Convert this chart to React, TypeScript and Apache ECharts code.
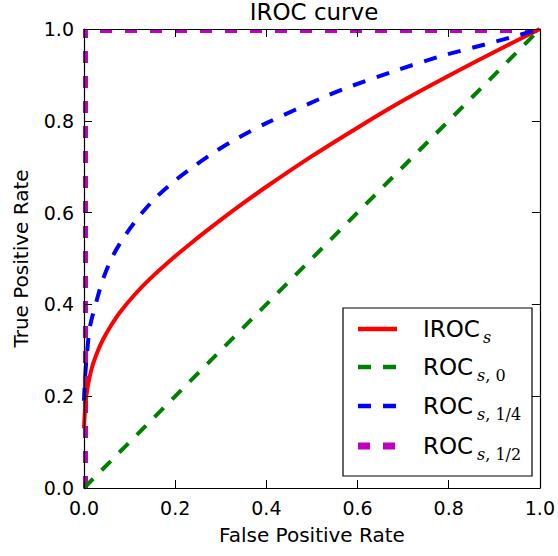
import React, { useEffect, useRef } from "react";
import * as echarts from "echarts";

// ---- data ----
const irocFpr = [0, 0.003, 0.008, 0.017, 0.03, 0.042, 0.06, 0.079, 0.11, 0.144, 0.186, 0.238, 0.3, 0.35, 0.404, 0.5, 0.6, 0.7, 0.8, 0.9, 1];
const irocTpr = [0.13, 0.18, 0.22, 0.261, 0.298, 0.324, 0.355, 0.383, 0.42, 0.455, 0.493, 0.536, 0.584, 0.621, 0.659, 0.723, 0.785, 0.844, 0.898, 0.95, 1];

const roc14Fpr = [0, 0.002, 0.006, 0.013, 0.028, 0.042, 0.064, 0.09, 0.122, 0.158, 0.2, 0.24, 0.288, 0.331, 0.4, 0.52, 0.571, 0.68, 0.78, 0.882, 0.955, 1];
const roc14Tpr = [0.19, 0.235, 0.286, 0.351, 0.409, 0.456, 0.507, 0.55, 0.593, 0.633, 0.67, 0.7, 0.733, 0.759, 0.795, 0.849, 0.87, 0.908, 0.94, 0.967, 0.987, 1];

const roc0Fpr = [0, 1];
const roc0Tpr = [0, 1];

const roc12Fpr = [0, 0, 1];
const roc12Tpr = [0, 1, 1];

const xTicks = [0, 0.2, 0.4, 0.6, 0.8, 1.0];
const yTicks = [0, 0.2, 0.4, 0.6, 0.8, 1.0];

const titleText = "IROC curve";
const xName = "False Positive Rate";
const yName = "True Positive Rate";

const legendMain = ["IROC", "ROC", "ROC", "ROC"];
const legendSubItalic = ["s", "s", "s", "s"];
const legendSubRest = ["", ", 0", ", 1/4", ", 1/2"];

const zip = (xs: number[], ys: number[]) => xs.map((x, i) => [x, ys[i]]);

export default function App() {
  const ref = useRef<HTMLDivElement>(null);
  useEffect(() => {
    if (!ref.current) return;
    const chart = echarts.init(ref.current, undefined, { renderer: "svg" });
    const font = "DejaVu Sans";
    const axisCommon = {
      type: "value" as const,
      min: 0,
      max: 1,
      interval: 0.2,
      splitLine: { show: false },
      axisLine: { show: true, onZero: false, lineStyle: { color: "#000", width: 1.2 } },
      axisTick: { show: true, inside: true, length: 8, lineStyle: { color: "#000", width: 1 } },
      z: 5,
    };
    const colors = ["#ff0000", "#008000", "#0000ff", "#bf00bf"];
    const widths = [4, 4, 4, 8];
    const dashes: any[] = [null, [13, 12], [13, 12], [12, 13]];
    const rowY = [329, 367, 406, 446];
    const subX = [483, 477, 477, 477];

    const legendEls: any[] = [
      {
        type: "rect",
        shape: { x: 343, y: 308, width: 189, height: 168 },
        style: { fill: "#fff", stroke: "#000", lineWidth: 1.2 },
        z: 10,
      },
    ];
    rowY.forEach((y, i) => {
      legendEls.push({
        type: "line",
        shape: { x1: 358, y1: y, x2: 397, y2: y },
        style: { stroke: colors[i], lineWidth: widths[i] === 8 ? 7 : 4.5, lineDash: dashes[i] || undefined },
        z: 11,
      });
      legendEls.push({
        type: "text",
        x: 423,
        y: y,
        style: {
          text: legendMain[i],
          fontFamily: font,
          fontSize: 23,
          fill: "#000",
          textVerticalAlign: "middle",
        },
        z: 11,
      });
      legendEls.push({
        type: "text",
        x: subX[i],
        y: y + 8,
        style: {
          text: `{i|${legendSubItalic[i]}}{u|${legendSubRest[i]}}`,
          rich: {
            i: { fontFamily: "DejaVu Serif", fontStyle: "italic", fontSize: 16, fill: "#000" },
            u: { fontFamily: "DejaVu Serif", fontSize: 16, fill: "#000" },
          },
          textVerticalAlign: "middle",
        },
        z: 11,
      });
    });

    chart.setOption({
      animation: false,
      backgroundColor: "#fff",
      title: {
        text: titleText,
        left: 314,
        top: 0,
        padding: 0,
        textAlign: "center",
        textStyle: { fontFamily: font, fontSize: 23, fontWeight: "normal", color: "#000" },
      },
      grid: { left: 84, right: 14, top: 29, bottom: 68, containLabel: false },
      xAxis: [
        {
          ...axisCommon,
          position: "bottom",
          name: xName,
          nameLocation: "middle",
          nameGap: 37,
          nameTextStyle: { fontFamily: font, fontSize: 20, color: "#000" },
          axisLabel: {
            fontFamily: font,
            fontSize: 19,
            color: "#000",
            margin: 10,
            formatter: (v: number) => (xTicks.includes(Math.round(v * 10) / 10) ? v.toFixed(1) : ""),
          },
        },
        { ...axisCommon, position: "top", axisLabel: { show: false } },
      ],
      yAxis: [
        {
          ...axisCommon,
          position: "left",
          name: yName,
          nameLocation: "middle",
          nameGap: 53,
          nameTextStyle: { fontFamily: font, fontSize: 20, color: "#000" },
          axisLabel: {
            fontFamily: font,
            fontSize: 19,
            color: "#000",
            margin: 10,
            formatter: (v: number) => (yTicks.includes(Math.round(v * 10) / 10) ? v.toFixed(1) : ""),
          },
        },
        { ...axisCommon, position: "right", axisLabel: { show: false } },
      ],
      series: [
        {
          type: "line",
          name: "IROC",
          data: zip(irocFpr, irocTpr),
          showSymbol: false,
          symbol: "none",
          smooth: 0.3,
          clip: true,
          lineStyle: { color: colors[0], width: widths[0] },
          z: 2,
        },
        {
          type: "line",
          name: "ROC0",
          data: zip(roc0Fpr, roc0Tpr),
          symbol: "none",
          clip: true,
          lineStyle: { color: colors[1], width: widths[1], type: dashes[1] },
          z: 2,
        },
        {
          type: "line",
          name: "ROC14",
          data: zip(roc14Fpr, roc14Tpr),
          symbol: "none",
          smooth: 0.3,
          clip: true,
          lineStyle: { color: colors[2], width: widths[2], type: dashes[2] },
          z: 2,
        },
        {
          type: "custom",
          name: "ROC12",
          data: zip(roc12Fpr, roc12Tpr),
          encode: { x: 0, y: 1 },
          clip: true,
          lineStyle: { width: 0.001 },
          renderItem: (params: any, api: any) => {
            if (params.dataIndex !== 0) return null;
            const pts = roc12Fpr.map((x, i) => api.coord([x, roc12Tpr[i]]));
            return {
              type: "polyline",
              shape: { points: pts },
              style: { stroke: colors[3], lineWidth: widths[3], lineDash: dashes[3], fill: null },
            };
          },
          z: 2,
        },
      ],
      graphic: legendEls,
    });
    return () => chart.dispose();
  }, []);
  return (
    <div
      ref={ref}
      style={{ position: "fixed", left: 0, top: 0, width: 558, height: 556, background: "#fff" }}
    />
  );
}
